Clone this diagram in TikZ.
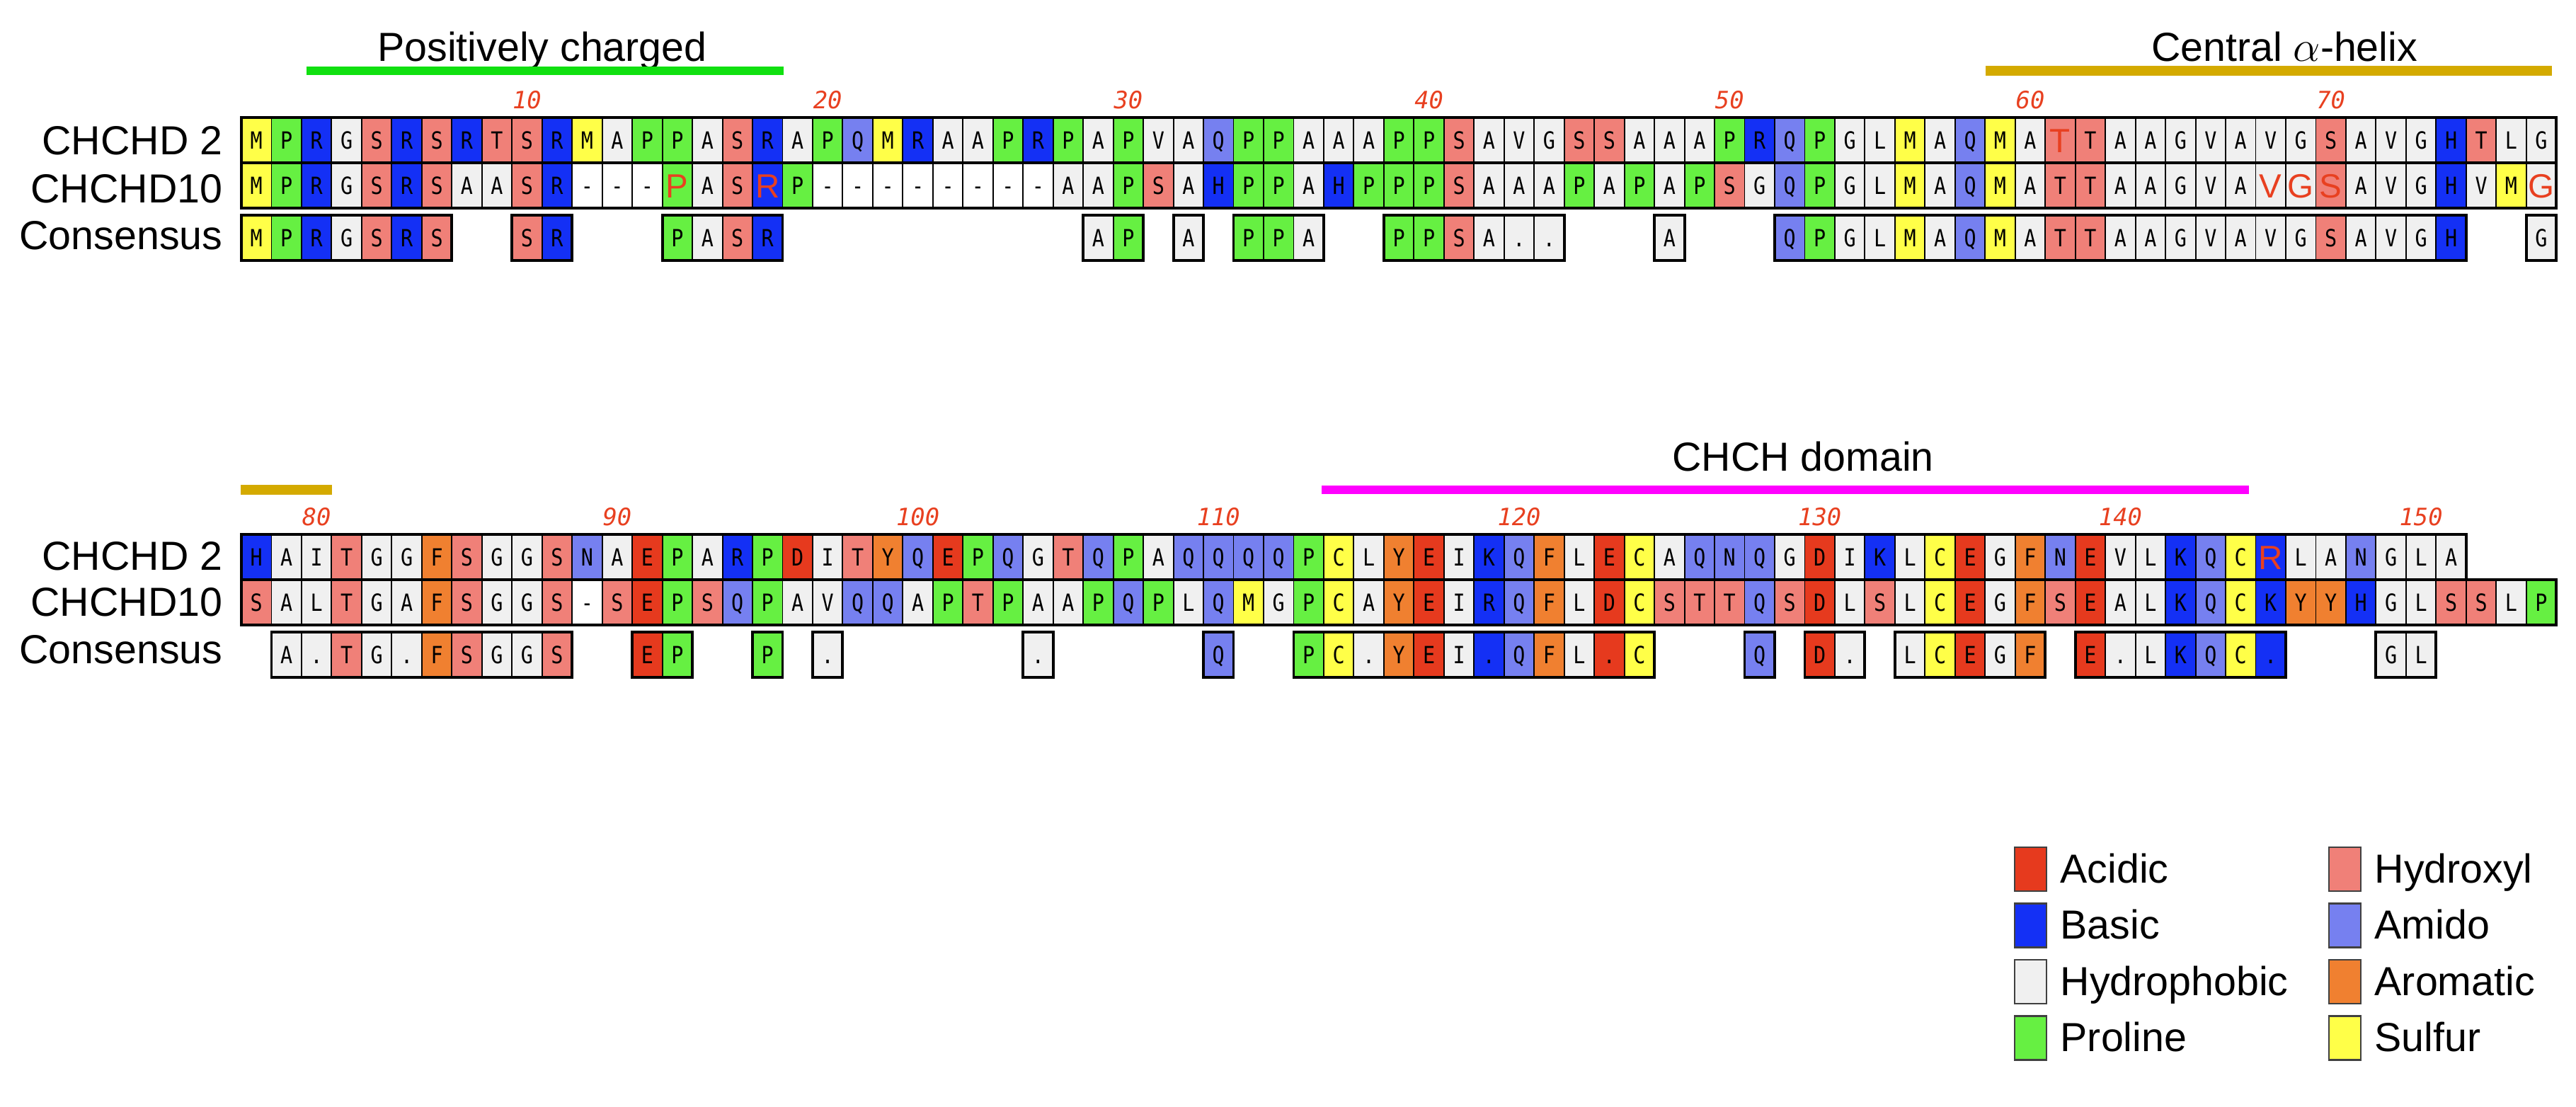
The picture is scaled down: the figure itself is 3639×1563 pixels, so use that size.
\documentclass[tikz,border=0pt]{standalone}
\usepackage{fontspec}
\setmainfont{Liberation Sans}
\newfontfamily\seqfont[FakeStretch=0.85]{DejaVu Sans Mono}
\newfontfamily\numfont{DejaVu Sans Mono}
\definecolor{acid}{RGB}{230,58,30}
\definecolor{basic}{RGB}{20,48,245}
\definecolor{hyd}{RGB}{240,240,240}
\definecolor{pro}{RGB}{102,240,66}
\definecolor{hydx}{RGB}{240,128,120}
\definecolor{amido}{RGB}{118,128,240}
\definecolor{arom}{RGB}{240,128,48}
\definecolor{sulf}{RGB}{255,255,72}
\definecolor{redtxt}{RGB}{232,64,32}
\definecolor{barg}{RGB}{16,224,16}
\definecolor{bary}{RGB}{212,170,0}
\definecolor{barm}{RGB}{255,0,255}
\newcommand\redl[1]{\raisebox{-1.4pt}{\rmfamily\fontsize{13.5}{14}\selectfont\color{redtxt}#1}}
\newcommand\defres[3]{\pgfkeys{/aa/#1/.code={\def\rescol{#2}\def\restxt{#3}}}}
\defres{D}{acid}{D}\defres{E}{acid}{E}
\defres{R}{basic}{R}\defres{K}{basic}{K}\defres{H}{basic}{H}
\defres{A}{hyd}{A}\defres{V}{hyd}{V}\defres{L}{hyd}{L}\defres{I}{hyd}{I}\defres{G}{hyd}{G}
\defres{P}{pro}{P}
\defres{S}{hydx}{S}\defres{T}{hydx}{T}
\defres{Q}{amido}{Q}\defres{N}{amido}{N}
\defres{F}{arom}{F}\defres{Y}{arom}{Y}\defres{W}{arom}{W}
\defres{M}{sulf}{M}\defres{C}{sulf}{C}
\defres{-}{white}{-}
\defres{dH}{hyd}{.}\defres{dB}{basic}{.}\defres{dA}{acid}{.}
\defres{rT}{hydx}{\redl{T}}\defres{rP}{pro}{\redl{P}}\defres{rR}{basic}{\redl{R}}
\defres{rV}{hyd}{\redl{V}}\defres{rG}{hyd}{\redl{G}}\defres{rS}{hydx}{\redl{S}}
\def\xo{341}
\def\cw{42.47}
\tikzset{
  cellbox/.style={draw=black, line width=0.55pt},
  outerbox/.style={draw=black, line width=1.1pt},
  restext/.style={font=\seqfont\fontsize{9.5}{9.5}\selectfont, text height=6.9pt, text depth=0pt, inner sep=0pt, anchor=center},
  numlab/.style={font=\numfont\itshape\fontsize{9.6}{10}\selectfont, text=redtxt, anchor=center, inner sep=0pt},
  rowlab/.style={font=\fontsize{16.3}{18}\selectfont, anchor=base east, inner sep=0pt},
  titletext/.style={font=\fontsize{16.3}{18}\selectfont, anchor=base, inner sep=0pt},
  legbox/.style={draw=black!75, line width=0.6pt},
  legtext/.style={font=\fontsize{16.3}{18}\selectfont, anchor=base west, inner sep=0pt},
  domainbar/.style={line width=3.5pt}
}
\newcommand\seqcells[6]{%
  \foreach \res [count=\idx from #2] in {#6} {%
    \pgfkeys{/aa/\res}%
    \path[cellbox, fill=\rescol] ({\xo+(\idx-1)*\cw},#4) rectangle ({\xo+\idx*\cw},#5);
    \node[restext] (#1-\idx) at ({\xo+(\idx-0.5)*\cw},{(#4+#5)/2}) {\restxt};
  }%
  \draw[outerbox] ({\xo+(#2-1)*\cw},#4) rectangle ({\xo+(#2+#3-1)*\cw},#5);
}
\begin{document}
\begin{tikzpicture}[x=0.01cm,y=-0.01cm]
\useasboundingbox[fill=white] (0,0) rectangle (3639,1563);
% ---------- titles and bars, block 1
\node[titletext] (t1) at (766,86) {Positively charged};
\draw[domainbar, barg] (433,100) -- (1107,100);
\node[titletext] (t2) at (3227,86) {Central $\alpha$-helix};
\draw[domainbar, bary, line width=3.8pt] (2805,100) -- (3605,100);
% ---------- numbers
\foreach \n in {10,20,...,70} \node[numlab] (n\n) at ({\xo+(\n-0.5)*\cw},141) {\n};
\foreach \n in {80,90,...,150} \node[numlab] (n\n) at ({\xo+(\n-77.5)*\cw},730) {\n};
% ---------- row labels
\node[rowlab] (l1a) at (315,218) {CHCHD 2};
\node[rowlab] (l1b) at (315,286) {CHCHD10};
\node[rowlab] (l1c) at (315,352) {Consensus};
\node[rowlab] (l2a) at (315,805) {CHCHD 2};
\node[rowlab] (l2b) at (315,870) {CHCHD10};
\node[rowlab] (l2c) at (315,937) {Consensus};
% ---------- block 1
\seqcells{aA}{1}{77}{166}{230}{M,P,R,G,S,R,S,R,T,S,%
R,M,A,P,P,A,S,R,A,P,%
Q,M,R,A,A,P,R,P,A,P,%
V,A,Q,P,P,A,A,A,P,P,%
S,A,V,G,S,S,A,A,A,P,%
R,Q,P,G,L,M,A,Q,M,A,%
rT,T,A,A,G,V,A,V,G,S,%
A,V,G,H,T,L,G}
\seqcells{aB}{1}{77}{230}{294}{M,P,R,G,S,R,S,A,A,S,%
R,-,-,-,rP,A,S,rR,P,-,%
-,-,-,-,-,-,-,A,A,P,%
S,A,H,P,P,A,H,P,P,P,%
S,A,A,A,P,A,P,A,P,S,%
G,Q,P,G,L,M,A,Q,M,A,%
T,T,A,A,G,V,A,rV,rG,rS,%
A,V,G,H,V,M,rG}
\seqcells{aC}{1}{7}{304}{368}{M,P,R,G,S,R,S}
\seqcells{aC}{10}{2}{304}{368}{S,R}
\seqcells{aC}{15}{4}{304}{368}{P,A,S,R}
\seqcells{aC}{29}{2}{304}{368}{A,P}
\seqcells{aC}{32}{1}{304}{368}{A}
\seqcells{aC}{34}{3}{304}{368}{P,P,A}
\seqcells{aC}{39}{6}{304}{368}{P,P,S,A,dH,dH}
\seqcells{aC}{48}{1}{304}{368}{A}
\seqcells{aC}{52}{23}{304}{368}{Q,P,G,L,M,A,Q,M,A,T,%
T,A,A,G,V,A,V,G,S,A,%
V,G,H}
\seqcells{aC}{77}{1}{304}{368}{G}
% ---------- titles and bars, block 2
\draw[domainbar, bary, line width=3.8pt] (340,692) -- (469,692);
\node[titletext] (t3) at (2547,665) {CHCH domain};
\draw[domainbar, barm] (1867,692) -- (3177,692);
% ---------- block 2
\seqcells{bA}{1}{74}{755}{819}{H,A,I,T,G,G,F,S,G,G,%
S,N,A,E,P,A,R,P,D,I,%
T,Y,Q,E,P,Q,G,T,Q,P,%
A,Q,Q,Q,Q,P,C,L,Y,E,%
I,K,Q,F,L,E,C,A,Q,N,%
Q,G,D,I,K,L,C,E,G,F,%
N,E,V,L,K,Q,C,rR,L,A,%
N,G,L,A}
\seqcells{bB}{1}{77}{819}{883}{S,A,L,T,G,A,F,S,G,G,%
S,-,S,E,P,S,Q,P,A,V,%
Q,Q,A,P,T,P,A,A,P,Q,%
P,L,Q,M,G,P,C,A,Y,E,%
I,R,Q,F,L,D,C,S,T,T,%
Q,S,D,L,S,L,C,E,G,F,%
S,E,A,L,K,Q,C,K,Y,Y,%
H,G,L,S,S,L,P}
\seqcells{bC}{2}{10}{893}{957}{A,dH,T,G,dH,F,S,G,G,S}
\seqcells{bC}{14}{2}{893}{957}{E,P}
\seqcells{bC}{18}{1}{893}{957}{P}
\seqcells{bC}{20}{1}{893}{957}{dH}
\seqcells{bC}{27}{1}{893}{957}{dH}
\seqcells{bC}{33}{1}{893}{957}{Q}
\seqcells{bC}{36}{12}{893}{957}{P,C,dH,Y,E,I,dB,Q,F,L,dA,C}
\seqcells{bC}{51}{1}{893}{957}{Q}
\seqcells{bC}{53}{2}{893}{957}{D,dH}
\seqcells{bC}{56}{5}{893}{957}{L,C,E,G,F}
\seqcells{bC}{62}{7}{893}{957}{E,dH,L,K,Q,C,dB}
\seqcells{bC}{72}{2}{893}{957}{G,L}
% ---------- legend
\foreach \nm/\fc/\rw/\cl in {Acidic/acid/0/0,Basic/basic/1/0,Hydrophobic/hyd/2/0,Proline/pro/3/0,Hydroxyl/hydx/0/1,Amido/amido/1/1,Aromatic/arom/2/1,Sulfur/sulf/3/1}{
  \path[legbox, fill=\fc] ({2846+\cl*444},{1197+\rw*79.5}) rectangle ({2891+\cl*444},{1259+\rw*79.5});
  \node[legtext] (leg\nm) at ({2910+\cl*444},{1247+\rw*79.5}) {\nm};
}
\end{tikzpicture}
\end{document}
